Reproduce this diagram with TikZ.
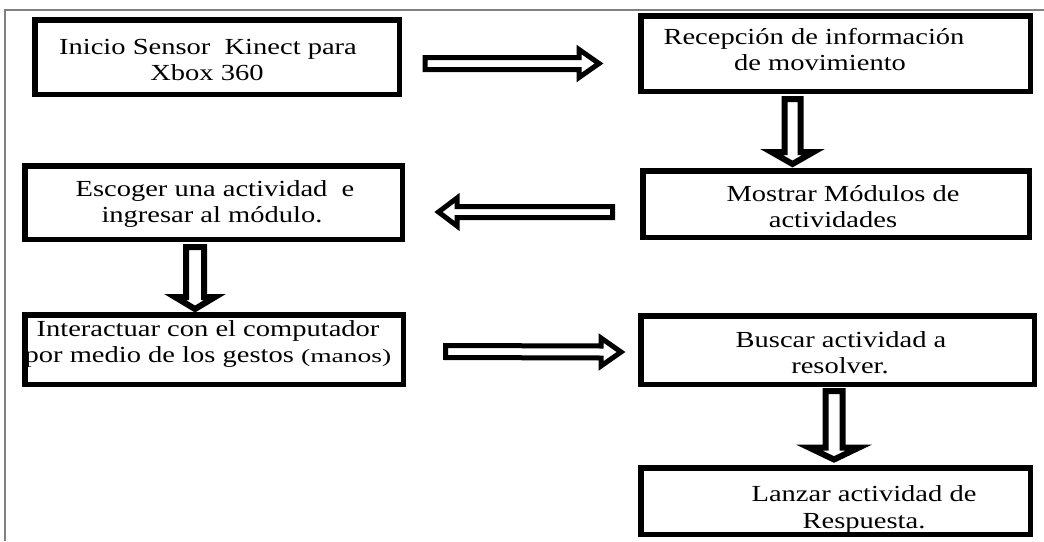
\documentclass[tikz,border=0pt]{standalone}
\usepackage{fontspec}
\setmainfont{Liberation Serif}[FakeStretch=1.24]
\newfontfamily\smallparen{Liberation Serif}[FakeStretch=1.45]
\usetikzlibrary{calc}
\tikzset{
  boxst/.style={draw=black, line width=5.5pt, inner sep=0pt, rectangle},
  txt/.style={anchor=base, inner sep=0pt, font=\fontsize{23}{26}\selectfont},
  blkh/.style={draw=black, fill=white, line width=5pt, line join=miter},
  blkv/.style={draw=black, fill=white, line width=6pt, line join=miter},
  frame/.style={draw=black!50, line width=1.5pt}
}
\newcommand\blkRight[2]{%
  \draw[blkh] ($(#1)+(0,-6)$) -- ($(#2)+(-20,-6)$) -- ($(#2)+(-20,-14)$) -- (#2)
    -- ($(#2)+(-20,14)$) -- ($(#2)+(-20,6)$) -- ($(#1)+(0,6)$) -- cycle;}
\newcommand\blkLeft[2]{%
  \draw[blkh] ($(#1)+(0,-5.5)$) -- ($(#2)+(18.5,-5.5)$) -- ($(#2)+(18.5,-14)$) -- (#2)
    -- ($(#2)+(18.5,14)$) -- ($(#2)+(18.5,5.5)$) -- ($(#1)+(0,5.5)$) -- cycle;}
\newcommand\blkDown[4]{% start, end, shaft half, head half
  \draw[blkv] ($(#1)+(-#3,0)$) -- ($(#2)+(-#3,-12)$) -- ($(#2)+(-#4,-12)$) -- (#2)
    -- ($(#2)+(#4,-12)$) -- ($(#2)+(#3,-12)$) -- ($(#1)+(#3,0)$) -- cycle;}
\begin{document}
\begin{tikzpicture}[x=1pt,y=-1pt]
\useasboundingbox (0,0) rectangle (1044,541);
% outer frame (top and left visible)
\coordinate (fbl) at (5,541);
\coordinate (ftl) at (5,10);
\coordinate (ftr) at (1044,10);
\draw[frame] (fbl) -- (ftl) -- (ftr);

% texts
\node[txt] (t1a) at (208,54) {Inicio Sensor~ Kinect para};
\node[txt] (t1b) at (207,80) {Xbox 360};
\node[txt] (t2a) at (814,44) {Recepción de información};
\node[txt] (t2b) at (820,70) {de movimiento};
\node[txt] (t3a) at (843,201) {Mostrar Módulos de};
\node[txt] (t3b) at (833,227) {actividades};
\node[txt] (t4a) at (215,196) {Escoger una actividad~ e};
\node[txt] (t4b) at (212,222) {ingresar al módulo.};
\node[txt] (t5a) at (208,336) {Interactuar con el computador};
\node[txt] (t5b) at (208,362) {por medio de los gestos {\smallparen\fontsize{19}{22}\selectfont (manos)}};
\node[txt] (t6a) at (841,347) {Buscar actividad a};
\node[txt] (t6b) at (840,373) {resolver.};
\node[txt] (t7a) at (864,501) {Lanzar actividad de};
\node[txt] (t7b) at (864,528) {Respuesta.};

% boxes
\node[boxst, minimum width=364.5pt, minimum height=74.5pt] (b1) at (217,57) {};
\node[boxst, minimum width=389.5pt, minimum height=75.5pt] (b2) at (835.5,53.5) {};
\node[boxst, minimum width=386.5pt, minimum height=66.5pt] (b3) at (836,204) {};
\node[boxst, minimum width=377.5pt, minimum height=73.5pt] (b4) at (213.5,202.5) {};
\node[boxst, minimum width=378.5pt, minimum height=69.5pt] (b5) at (214,349.5) {};
\node[boxst, minimum width=393.5pt, minimum height=68.5pt] (b6) at (837.5,350) {};
\node[boxst, minimum width=389.5pt, minimum height=66.5pt] (b7) at (835.5,501) {};

% block arrows
\coordinate (a1s) at ($(b1.east)+(23,6.5)$);
\coordinate (a1e) at ($(b2.west)+(-39,10)$);
\blkRight{a1s}{a1e}

\coordinate (a2s) at ($(b2.south)+(-43,5)$);
\coordinate (a2e) at ($(b3.north)+(-43.5,-4)$);
\blkDown{a2s}{a2e}{8}{21}

\coordinate (a3s) at ($(b3.west)+(-27.5,8)$);
\coordinate (a3e) at ($(b4.east)+(33.5,9.5)$);
\blkLeft{a3s}{a3e}

\coordinate (a4s) at ($(b4.south)+(-18.5,5)$);
\coordinate (a4e) at ($(b5.north)+(-19,-3)$);
\blkDown{a4s}{a4e}{9}{20}

\coordinate (a5s) at ($(b5.east)+(39.5,2)$);
\coordinate (a5e) at ($(b6.west)+(-17,2)$);
\blkRight{a5s}{a5e}

\coordinate (a6s) at ($(b6.south)+(-3.5,4)$);
\coordinate (a6e) at ($(b7.north)+(-1.5,-5.5)$);
\blkDown{a6s}{a6e}{8.5}{25}
\end{tikzpicture}
\end{document}
